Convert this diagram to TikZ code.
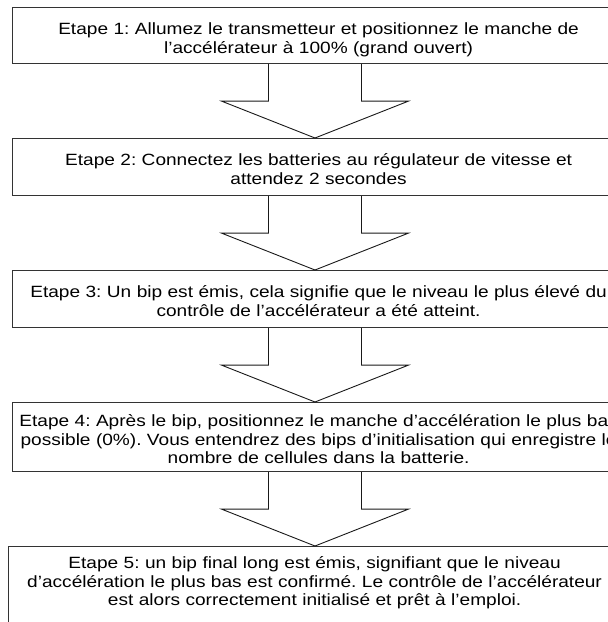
\documentclass[tikz,border=0pt]{standalone}
\usepackage{fontspec}
\setmainfont{Liberation Sans}[FakeStretch=1.17]
\usepackage{tikz}
\usetikzlibrary{calc}
\tikzset{>=latex}
\frenchspacing
\tikzstyle{stepbox} = [rectangle, draw=black!80, line width=1.2pt, anchor=north west, inner xsep=0pt, inner ysep=0pt, text width=612pt, align=center, font=\fontsize{16.3}{18.5}\selectfont]
\tikzstyle{fleche} = [draw=black!90, line width=0.9pt, line join=miter]
\newcommand\flecheEtape[2]{%
    \coordinate (mid) at ($(#1.south -| axe)!0.5!(#2.north -| axe)$);
    \draw[fleche] (#1.south -| shaftL) -- (mid -| shaftL) -- (mid -| wingL) -- (#2.north -| axe)
        -- (mid -| wingR) -- (mid -| shaftR) -- (#1.south -| shaftR);
}

\begin{document}
\begin{tikzpicture}[x=1pt, y=-1pt]
    \useasboundingbox (0,0) rectangle (608,622);
    \clip (0,0) rectangle (608,622);
    \coordinate (axe) at (315,0);
    \coordinate (shaftL) at (268.5,0);
    \coordinate (shaftR) at (361.5,0);
    \coordinate (wingL) at (221.5,0);
    \coordinate (wingR) at (408.5,0);

    \node[stepbox, text height=27pt, text depth=29pt] (etape1) at (12,7)
        {Etape 1: Allumez le transmetteur et positionnez le manche de\\l’accélérateur à 100\% (grand ouvert)};
    \node[stepbox, text height=27pt, text depth=30pt] (etape2) at (12,138)
        {Etape 2: Connectez les batteries au régulateur de vitesse et\\attendez 2 secondes};
    \node[stepbox, text height=27pt, text depth=30pt] (etape3) at (12,270)
        {Etape 3: Un bip est émis, cela signifie que le niveau le plus élevé du\\contrôle de l’accélérateur a été atteint.};
    \node[stepbox, text height=24pt, text depth=45pt] (etape4) at (12,402)
        {Etape 4: Après le bip, positionnez le manche d’accélération le plus bas\\possible (0\%). Vous entendrez des bips d’initialisation qui enregistre le\\nombre de cellules dans la batterie.};
    \node[stepbox, text height=22pt, text depth=62pt] (etape5) at (8,546)
        {Etape 5: un bip final long est émis, signifiant que le niveau\\d’accélération le plus bas est confirmé. Le contrôle de l’accélérateur\\est alors correctement initialisé et prêt à l’emploi.};

    \flecheEtape{etape1}{etape2}
    \flecheEtape{etape2}{etape3}
    \flecheEtape{etape3}{etape4}
    \flecheEtape{etape4}{etape5}
\end{tikzpicture}
\end{document}
